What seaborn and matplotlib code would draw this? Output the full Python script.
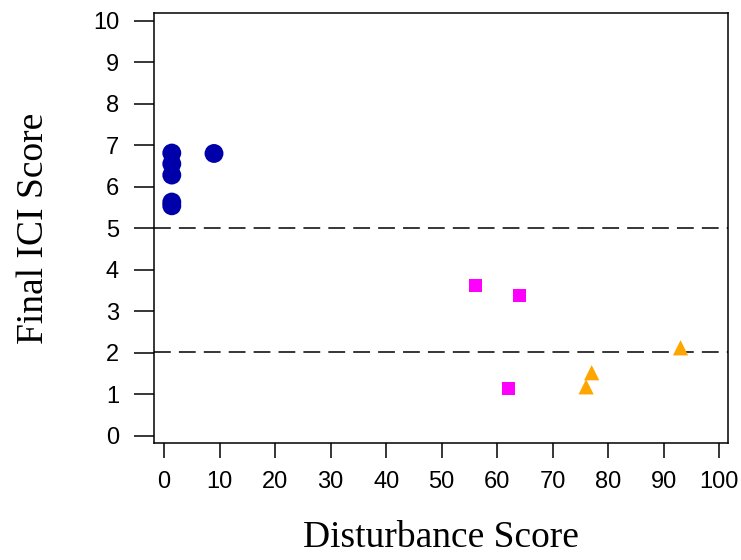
import matplotlib
matplotlib.use("Agg")
import matplotlib.pyplot as plt
import seaborn as sns
import pandas as pd

# Data
good_x = [1.4, 1.4, 1.4, 1.4, 1.4, 9]
good_y = [6.81, 6.55, 6.28, 5.63, 5.54, 6.80]
fair_x = [56, 64, 62]
fair_y = [3.62, 3.38, 1.14]
poor_x = [76, 77, 93]
poor_y = [1.18, 1.52, 2.12]
thresholds = [5.0, 2.03]
x_ticks = list(range(0, 101, 10))
y_ticks = list(range(0, 11))

df = pd.DataFrame({
    "x": good_x + fair_x + poor_x,
    "y": good_y + fair_y + poor_y,
    "group": ["good"] * len(good_x) + ["fair"] * len(fair_x) + ["poor"] * len(poor_x),
})

sns.set_theme(style="white")
plt.rcParams["font.family"] = ["Liberation Sans", "DejaVu Sans"]
plt.rcParams["text.color"] = "black"
plt.rcParams["axes.labelcolor"] = "black"

fig = plt.figure(figsize=(7.41, 5.6), dpi=100)
ax = fig.add_axes([154.3 / 741, 1 - 443.3 / 560, (728.3 - 154.3) / 741, (443.3 - 12.7) / 560])

sns.scatterplot(
    data=df, x="x", y="y", hue="group", style="group", size="group",
    palette={"good": "#0000AA", "fair": "#FF00FF", "poor": "#FFA500"},
    markers={"good": "o", "fair": "s", "poor": "^"},
    sizes={"good": 185, "fair": 88, "poor": 120},
    linewidth=0, legend=False, ax=ax, zorder=3,
)

for t in thresholds:
    ax.axhline(t, color="black", lw=1.1, ls=(0, (11, 5.3)), zorder=2)

ax.set_xlim(-1.75, 101.6)
ax.set_ylim(-0.18, 10.19)
ax.set_xticks(x_ticks)
ax.set_yticks(y_ticks)
ax.tick_params(axis="both", labelsize=17, colors="black", labelcolor="black", width=1.1)
ax.tick_params(axis="y", length=14.4, pad=11)
ax.tick_params(axis="x", length=10.8, pad=9)
ax.tick_params(axis="both", which="both", bottom=True, left=True)
for s in ax.spines.values():
    s.set_color("black")
    s.set_linewidth(1.1)

ax.set_xlabel("Disturbance Score", fontsize=27, family=["Liberation Serif"], labelpad=20, color="black")
ax.set_ylabel("Final ICI Score", fontsize=27, family=["Liberation Serif"], labelpad=30, color="black")

fig.savefig("out.png", dpi=100)
